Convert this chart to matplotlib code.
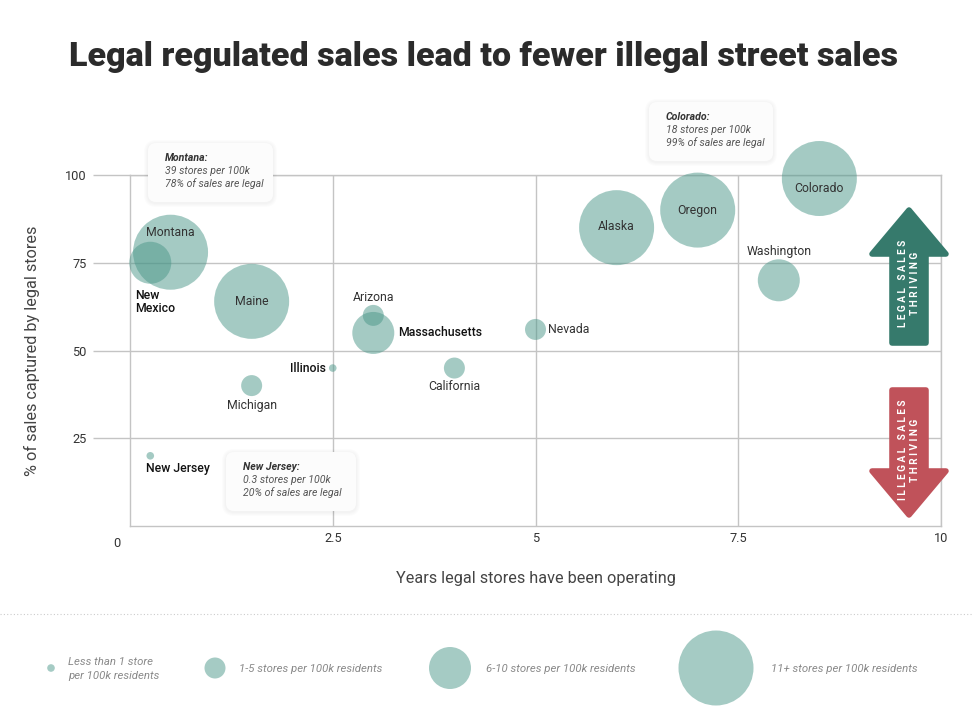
import matplotlib
matplotlib.use('Agg')
import matplotlib.pyplot as plt
from matplotlib.patches import FancyBboxPatch, Polygon
import numpy as np

plt.rcParams['font.family'] = ['Roboto', 'DejaVu Sans']

# data
states = ['Montana', 'New Mexico', 'Maine', 'Arizona', 'Massachusetts', 'Nevada',
          'Illinois', 'California', 'Michigan', 'New Jersey', 'Alaska', 'Oregon',
          'Colorado', 'Washington']
years = [0.5, 0.25, 1.5, 3.0, 3.0, 5.0, 2.5, 4.0, 1.5, 0.25, 6.0, 7.0, 8.5, 8.0]
pct_legal = [78, 75, 64, 60, 55, 56, 45, 45, 40, 20, 85, 90, 99, 70]
# store density tier: 0 = <1, 1 = 1-5, 2 = 6-10, 3 = 11+ per 100k
tier = [3, 2, 3, 1, 2, 1, 0, 1, 1, 0, 3, 3, 3, 2]

tier_labels = ['Less than 1 store\nper 100k residents', '1-5 stores per 100k residents',
               '6-10 stores per 100k residents', '11+ stores per 100k residents']

callouts = [
    ('Montana:', '39 stores per 100k', '78% of sales are legal'),
    ('Colorado:', '18 stores per 100k', '99% of sales are legal'),
    ('New Jersey:', '0.3 stores per 100k', '20% of sales are legal'),
]

x_ticks = [2.5, 5, 7.5, 10]
x_ticklabels = ['2.5', '5', '7.5', '10']
y_ticks = [25, 50, 75, 100]

# bubble radius in pixels for each tier -> marker area in pt^2
radius_px = {0: 3.8, 1: 10.5, 2: 21, 3: 37.5}
def area(t):
    return (2 * radius_px[t] * 0.72) ** 2

bubble_col = '#4b9789'
legend_col = '#a5cbc4'
grid_col = '#c4c4c4'
dark = '#333333'

fig = plt.figure(figsize=(9.72, 7.2), dpi=100)
ax = fig.add_axes([130 / 972, 194 / 720, 811 / 972, 351 / 720])

sizes = [area(t) for t in tier]
ax.scatter(years, pct_legal, s=sizes, c=bubble_col, alpha=0.5, linewidths=0,
           clip_on=False, zorder=3)

ax.set_xlim(0, 10)
ax.set_ylim(0, 100)
ax.set_xticks(x_ticks)
ax.set_yticks(y_ticks)
ax.grid(True, color=grid_col, lw=1, zorder=0)
ax.set_axisbelow(True)
for sp in ax.spines.values():
    sp.set_color(grid_col)
    sp.set_linewidth(1)
ax.tick_params(axis='x', length=0, pad=4, labelsize=9.2, labelcolor=dark)
ax.tick_params(axis='y', length=27, width=1, color=grid_col, pad=4.5,
               labelsize=9.2, labelcolor=dark)
ax.set_xticklabels(x_ticklabels)
ax.set_yticklabels([str(v) for v in y_ticks])
ax.text(-0.012, -0.03, '0', transform=ax.transAxes, ha='right', va='top',
        fontsize=9.2, color=dark)

ax.set_xlabel('Years legal stores have been operating', fontsize=11.7,
              color='#444444', labelpad=19)
ax.set_ylabel('% of sales captured by legal stores', fontsize=11.7,
              color='#444444', labelpad=18)

# label placement (offset in points, alignment, style)
label_pos = {
    'Montana': ((0, 14), 'center', 'in'),
    'New Mexico': ((-11, -28.5), 'left', 'out'),
    'Maine': ((0, 0), 'center', 'in'),
    'Arizona': ((0, 13), 'center', 'plain'),
    'Massachusetts': ((18, 0), 'left', 'out'),
    'Nevada': ((9, 0), 'left', 'plain'),
    'Illinois': ((-5, 0), 'right', 'out'),
    'California': ((0, -13), 'center', 'plain'),
    'Michigan': ((0, -14), 'center', 'plain'),
    'New Jersey': ((-3, -9), 'left', 'out'),
    'Alaska': ((0, 0.5), 'center', 'in'),
    'Oregon': ((0, 0), 'center', 'in'),
    'Colorado': ((0, -7.5), 'center', 'in'),
    'Washington': ((0, 21), 'center', 'plain'),
}
for name, xv, yv in zip(states, years, pct_legal):
    off, ha, kind = label_pos[name]
    txt = 'New\nMexico' if name == 'New Mexico' else name
    if kind == 'out':
        col, wt = '#111111', 'medium'
    else:
        col, wt = dark, 'normal'
    ax.annotate(txt, (xv, yv), xytext=off, textcoords='offset points',
                ha=ha, va='center', fontsize=8.8, color=col, fontweight=wt,
                linespacing=1.0, zorder=5, annotation_clip=False)

# overlay in figure pixels for decorations
ov = fig.add_axes([0, 0, 1, 1], zorder=10)
ov.set_xlim(0, 972)
ov.set_ylim(720, 0)
ov.axis('off')
ov.patch.set_alpha(0)

ov.text(483, 57, 'Legal regulated sales lead to fewer illegal street sales',
        ha='center', va='center', fontsize=24.5, fontweight='black', color='#2b2b2b')

# callout boxes
boxes = [(148, 143, 125, 59), (649, 102, 124, 59), (226, 452, 130, 59)]
for (bx, by, bw, bh), (head, l1, l2) in zip(boxes, callouts):
    for k in range(1, 5):
        sh = FancyBboxPatch((bx - k, by + 1 - k), bw + 2 * k, bh + 2 * k,
                            boxstyle='round,pad=0,rounding_size=%d' % (8 + k),
                            fc='#000000', ec='none', alpha=0.012, zorder=1)
        ov.add_patch(sh)
    ov.add_patch(FancyBboxPatch((bx, by), bw, bh, boxstyle='round,pad=0,rounding_size=8',
                                fc='#fcfcfc', ec='none', zorder=2))
    tx = bx + 17
    ov.text(tx, by + 15, head, fontsize=7.6, style='italic', fontweight='bold',
            color='#333333', va='center', zorder=3)
    ov.text(tx, by + 28, l1, fontsize=7.6, style='italic', color='#555555',
            va='center', zorder=3)
    ov.text(tx, by + 41, l2, fontsize=7.6, style='italic', color='#555555',
            va='center', zorder=3)

# direction arrows
cx = 909
s_half, h_half = 17, 37
up = [(cx - s_half, 343), (cx + s_half, 343), (cx + s_half, 254), (cx + h_half, 254),
      (cx, 210), (cx - h_half, 254), (cx - s_half, 254)]
down = [(cx - s_half, 390), (cx + s_half, 390), (cx + s_half, 471), (cx + h_half, 471),
        (cx, 515), (cx - h_half, 471), (cx - s_half, 471)]
ov.add_patch(Polygon(up, closed=True, fc='#367a6c', ec='#367a6c', lw=4,
                     joinstyle='round', zorder=4))
ov.add_patch(Polygon(down, closed=True, fc='#c0525a', ec='#c0525a', lw=4,
                     joinstyle='round', zorder=4))
ov.text(cx, 283, 'L E G A L   S A L E S\nT H R I V I N G', rotation=90,
        ha='center', va='center', fontsize=7.2, fontweight='bold', color='white',
        linespacing=1.25, zorder=5)
ov.text(cx, 450, 'I L L E G A L   S A L E S\nT H R I V I N G', rotation=90,
        ha='center', va='center', fontsize=7.2, fontweight='bold', color='white',
        linespacing=1.25, zorder=5)

# separator
ov.plot([0, 972], [614, 614], ls=(0, (1, 2)), color='#cccccc', lw=0.8)

# size legend
leg_x = [51, 215, 450, 716]
txt_x = [68, 239, 486, 771]
ov.scatter(leg_x, [668] * 4, s=[area(t) for t in range(4)], c=legend_col,
           linewidths=0, zorder=3)
for t, lab in enumerate(tier_labels):
    ov.text(txt_x[t], 669, lab, fontsize=8.2, style='italic', color='#8a8a8a',
            va='center', ha='left', linespacing=1.4)

fig.savefig('out.png', dpi=100, facecolor='white')
